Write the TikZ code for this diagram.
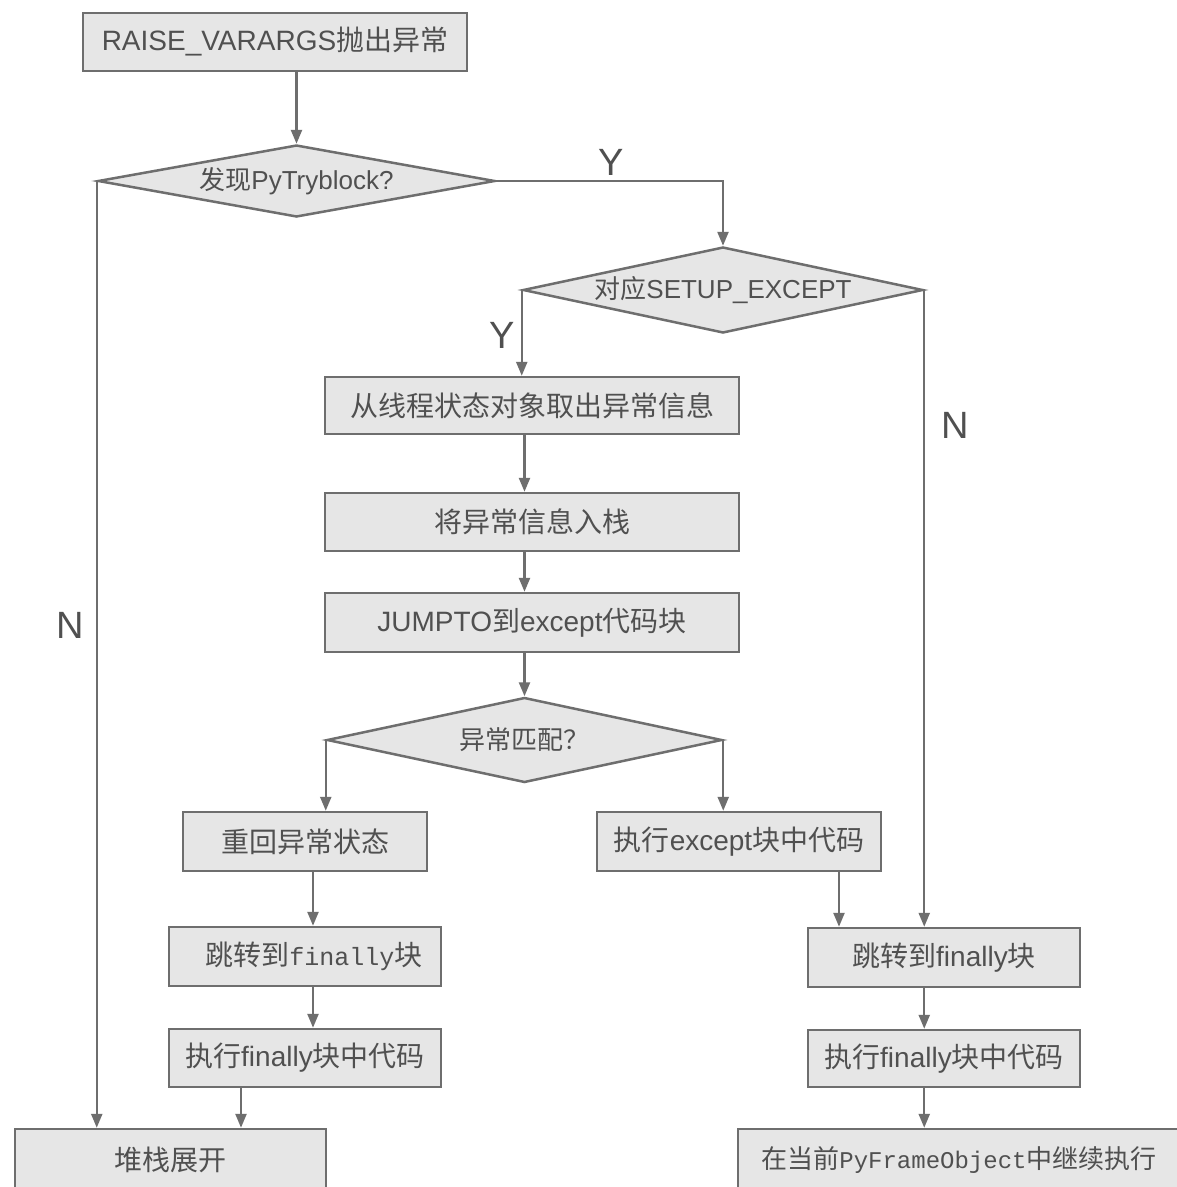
\documentclass[tikz,border=0pt]{standalone}
\usepackage{fontspec}
\setmainfont{Liberation Sans}
\setmonofont{Liberation Mono}
\newfontfamily\cjk{Noto Sans CJK SC}
\usetikzlibrary{shapes.geometric,arrows.meta}

\definecolor{linegray}{HTML}{6E6E6E}
\definecolor{boxfill}{HTML}{E6E6E6}
\definecolor{textgray}{HTML}{505050}

\begin{document}
\begin{tikzpicture}[x=1pt,y=-1pt,
  box/.style={draw=linegray, line width=2.5pt, fill=boxfill, inner sep=0pt,
    text=textgray, font=\fontsize{28}{30}\selectfont},
  decision/.style={diamond, aspect=5, draw=linegray, line width=2.5pt, fill=boxfill,
    inner sep=0pt, text=textgray, font=\fontsize{26}{28}\selectfont},
  flow/.style={draw=linegray, line width=2.4pt, -{Triangle[length=14pt,width=11pt]}},
  lbl/.style={text=textgray, font=\fontsize{38}{40}\selectfont, inner sep=0pt}]

\useasboundingbox (0,0) rectangle (1177,1187);
\fill[white] (0,0) rectangle (1177,1187);
\clip (0,0) rectangle (1177,1187);

% main column
\node[box, minimum width=384pt, minimum height=58pt] (n1) at (275,42) {RAISE\_VARARGS{\cjk 抛出异常}};
\node[decision, minimum width=397pt, minimum height=72pt] (d1) at (296.5,181) {{\cjk 发现}PyTryblock?};
\node[decision, minimum width=400pt, minimum height=86pt] (d2) at (723,290) {{\cjk 对应}SETUP\_EXCEPT};
\node[box, minimum width=414pt, minimum height=57pt] (b1) at (532,405.5) {{\cjk 从线程状态对象取出异常信息}};
\node[box, minimum width=414pt, minimum height=58pt] (b2) at (532,522) {{\cjk 将异常信息入栈}};
\node[box, minimum width=414pt, minimum height=59pt] (b3) at (532,622.5) {JUMPTO{\cjk 到}except{\cjk 代码块}};
\node[decision, minimum width=395pt, minimum height=85pt] (d3) at (524.5,740) {{\cjk 异常匹配？}};

% left branch
\node[box, minimum width=244pt, minimum height=59pt] (b4) at (305,841.5) {{\cjk 重回异常状态}};
\node[box, minimum width=272pt, minimum height=59pt] (b6) at (305,956.5) {\hspace{18pt}{\cjk 跳转到}{\fontsize{25}{28}\selectfont\ttfamily finally}{\cjk 块}};
\node[box, minimum width=272pt, minimum height=58pt] (b7) at (305,1058) {{\cjk 执行}finally{\cjk 块中代码}};
\node[box, minimum width=311pt, minimum height=61pt] (b8) at (170.5,1159.5) {{\cjk 堆栈展开}};

% right branch
\node[box, minimum width=284pt, minimum height=59pt] (b5) at (739,841.5) {{\cjk 执行}except{\cjk 块中代码}};
\node[box, minimum width=272pt, minimum height=59pt] (b9) at (944,957.5) {{\cjk 跳转到}finally{\cjk 块}};
\node[box, minimum width=272pt, minimum height=57pt] (b10) at (944,1058.5) {{\cjk 执行}finally{\cjk 块中代码}};
\node[box, minimum width=442pt, minimum height=61pt, font=\fontsize{26}{28}\selectfont] (b11) at (959,1159.5)
  {{\cjk 在当前}{\fontsize{24}{28}\selectfont\ttfamily PyFrameObject}{\cjk 中继续执行}\hspace{10pt}};

% connectors
\draw[flow] (n1.south -| d1.north) -- (d1.north);
\draw[flow] (d1.east) -- (d1.east -| d2.north) -- (d2.north);
\draw[flow] (d1.west) -- (d1.west |- b8.north);
\draw[flow] (d2.west) -- (d2.west |- b1.north);
\draw[flow] (d2.east) -- (d2.east |- b9.north);
\draw[flow] (b1.south -| d3.north) -- (b2.north -| d3.north);
\draw[flow] (b2.south -| d3.north) -- (b3.north -| d3.north);
\draw[flow] (b3.south -| d3.north) -- (d3.north);
\draw[flow] (d3.west) -- (d3.west |- b4.north);
\draw[flow] (d3.east) -- (d3.east |- b5.north);
\draw[flow] ([xshift=8pt]b4.south) -- ([xshift=8pt]b6.north);
\draw[flow] ([xshift=8pt]b6.south) -- ([xshift=8pt]b7.north);
\draw[flow] ([xshift=-64pt]b7.south) -- ([xshift=-64pt]b7.south |- b8.north);
\draw[flow] ([xshift=100pt]b5.south) -- ([xshift=100pt]b5.south |- b9.north);
\draw[flow] (b9.south -| d2.east) -- (b10.north -| d2.east);
\draw[flow] (b10.south -| d2.east) -- (b11.north -| d2.east);

% branch labels
\node[lbl] (y1) at (611,162) {Y};
\node[lbl] (y2) at (502,335) {Y};
\node[lbl] (nl) at (70,625) {N};
\node[lbl] (nr) at (955,425) {N};
\end{tikzpicture}
\end{document}
